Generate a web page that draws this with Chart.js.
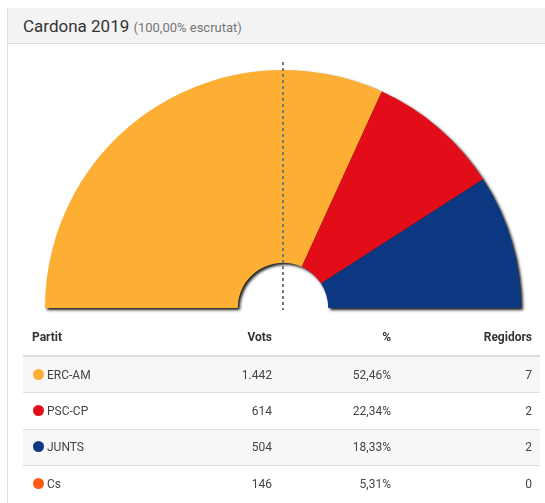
<!DOCTYPE html>
<html>
<head>
<meta charset="utf-8">
<script src="https://cdn.jsdelivr.net/npm/chart.js@4"></script>
<style>
  body { margin: 0; background: #fff; font-family: Roboto, sans-serif; }
  #panel { position: absolute; left: 7px; top: 8px; width: 545px; height: 500px; border-left: 1px solid #ddd; }
  #head { height: 35px; background: #f3f3f3; border-bottom: 1px solid #ddd; color: #333; font-size: 17px; line-height: 36px; padding-left: 15px; }
  #head small { font-size: 13px; color: #777; }
  #chartBox { position: absolute; left: 0; top: 44px; width: 545px; height: 275px; }
  table { position: absolute; left: 23px; top: 318px; width: 517px; border-collapse: collapse; font-size: 12px; color: #444; }
  th { height: 37px; font-weight: bold; color: #333; border-bottom: 2px solid #ddd; padding: 0 8px; text-align: right; }
  td { height: 35.4px; border-top: 1px solid #ddd; padding: 0 8px; text-align: right; }
  th:first-child, td:first-child { text-align: left; padding-left: 9px; }
  tbody tr:nth-child(odd) { background: #f7f7f7; }
  .dot { display: inline-block; width: 11px; height: 11px; border-radius: 50%; vertical-align: -1px; margin-right: 3px; margin-left: 1px; }
</style>
</head>
<body>
<div id="panel">
  <div id="head">Cardona 2019 <small>(100,00% escrutat)</small></div>
</div>
<div id="chartBox"><canvas id="seatChart"></canvas></div>
<table id="results">
  <thead>
    <tr><th style="width:140px">Partit</th><th style="width:84px">Vots</th><th style="width:103px">%</th><th>Regidors</th></tr>
  </thead>
  <tbody></tbody>
</table>
<script>
// dades
var partits = ['ERC-AM', 'PSC-CP', 'JUNTS', 'Cs'];
var vots = ['1.442', '614', '504', '146'];
var percent = ['52,46%', '22,34%', '18,33%', '5,31%'];
var regidors = [7, 2, 2, 0];
var colors = ['#fcaf32', '#e30d19', '#0c3882', '#fb5b16'];

// taula
var tbody = document.querySelector('#results tbody');
partits.forEach(function (p, i) {
    var tr = document.createElement('tr');
    tr.innerHTML = '<td><span class="dot" style="background:' + colors[i] + '"></span>' + p + '</td>' +
        '<td>' + vots[i] + '</td><td>' + percent[i] + '</td><td>' + regidors[i] + '</td>';
    tbody.appendChild(tr);
});

// ombra + línia de majoria
var shadowPlugin = {
    id: 'shadow',
    beforeDatasetsDraw: function (chart) {
        var ctx = chart.ctx;
        ctx.save();
        ctx.shadowColor = 'rgba(0,0,0,0.9)';
        ctx.shadowBlur = 3;
        ctx.shadowOffsetX = 2;
        ctx.shadowOffsetY = 2;
    },
    afterDatasetsDraw: function (chart) {
        chart.ctx.restore();
    },
    afterDraw: function (chart) {
        var arc = chart.getDatasetMeta(0).data[0];
        var ctx = chart.ctx;
        ctx.save();
        ctx.strokeStyle = '#777';
        ctx.lineWidth = 2;
        ctx.setLineDash([3, 3]);
        ctx.beginPath();
        ctx.moveTo(arc.x, arc.y - arc.outerRadius - 8);
        ctx.lineTo(arc.x, arc.y + 2);
        ctx.stroke();
        ctx.restore();
    }
};

var ctxSeats = document.getElementById('seatChart').getContext('2d');
new Chart(ctxSeats, {
    type: 'doughnut',
    data: {
        labels: partits,
        datasets: [{
            data: regidors,
            backgroundColor: colors,
            borderWidth: 0,
            clip: false
        }]
    },
    options: {
        responsive: true,
        maintainAspectRatio: false,
        animation: false,
        rotation: -90,
        circumference: 180,
        cutout: '19%',
        layout: { padding: { left: 45, right: 24, top: 26, bottom: 11 } },
        plugins: {
            legend: { display: false },
            tooltip: { enabled: false }
        }
    },
    plugins: [shadowPlugin]
});
</script>
</body>
</html>
